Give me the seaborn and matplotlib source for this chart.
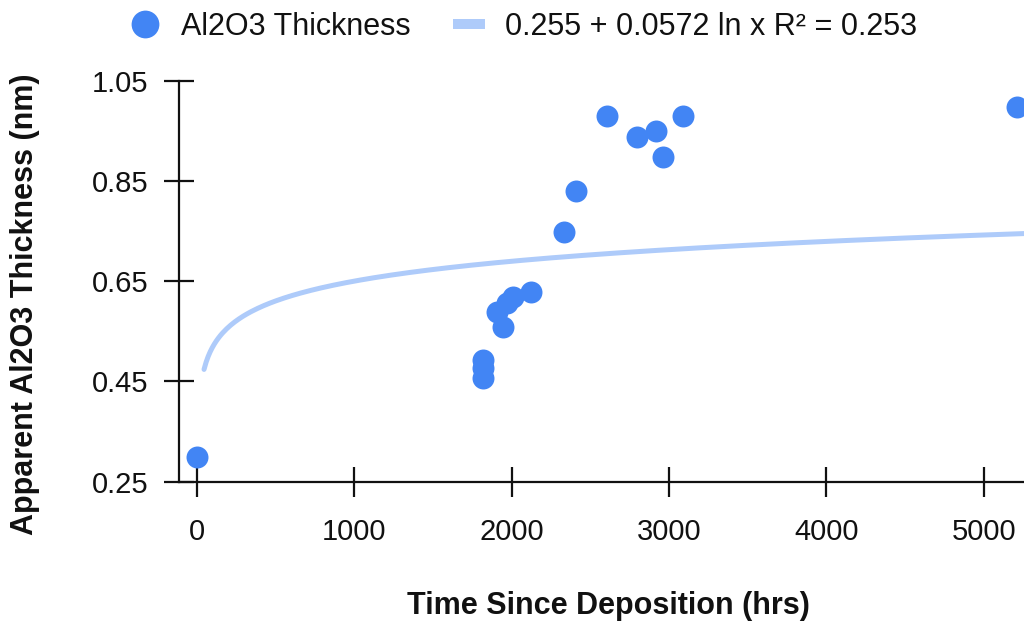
import numpy as np
import pandas as pd
import matplotlib
matplotlib.use("Agg")
import matplotlib.pyplot as plt
from matplotlib.lines import Line2D
import seaborn as sns

# Measured oxide thickness versus time since deposition
hours = [0, 1820, 1820, 1820, 1905, 1943, 1969, 2011, 2121,
         2333, 2407, 2604, 2794, 2916, 2960, 3091, 5211]
thickness_nm = [0.299, 0.456, 0.477, 0.493, 0.589, 0.558, 0.607, 0.619, 0.629,
                0.749, 0.829, 0.980, 0.938, 0.950, 0.898, 0.980, 0.998]

# Logarithmic trendline: y = a + b ln x
fit_a, fit_b, fit_r2 = 0.255, 0.0572, 0.253
fit_label = f"{fit_a} + {fit_b} ln x R\u00b2 = {fit_r2}"
point_label = "Al2O3 Thickness"

x_ticks = [0, 1000, 2000, 3000, 4000, 5000]
y_ticks = [0.25, 0.45, 0.65, 0.85, 1.05]

POINT_COLOR = "#4285F4"
LINE_COLOR = "#AECBFA"
TEXT_COLOR = "#111111"

sns.set_theme(style="white")
plt.rcParams["font.family"] = ["Liberation Sans", "DejaVu Sans"]

fig = plt.figure(figsize=(10.24, 6.22), dpi=100)
ax = fig.add_axes([179 / 1024, (622 - 481.7) / 622, (1024 - 179) / 1024, (481.7 - 80.7) / 622])

df = pd.DataFrame({"hours": hours, "thickness": thickness_nm})
fit_x = np.linspace(46, 5255, 400)
fit_df = pd.DataFrame({"hours": fit_x, "thickness": fit_a + fit_b * np.log(fit_x)})

sns.lineplot(data=fit_df, x="hours", y="thickness", ax=ax, color=LINE_COLOR,
             linewidth=3.6, legend=False, zorder=2)
sns.scatterplot(data=df, x="hours", y="thickness", ax=ax, color=POINT_COLOR,
                s=250, linewidth=0, legend=False, zorder=3)

ax.set_xlim(-113, 5255)
ax.set_ylim(0.25, 1.05)
ax.set_xticks(x_ticks)
ax.set_xticklabels([str(t) for t in x_ticks])
ax.set_yticks(y_ticks)
ax.set_yticklabels([f"{t:.2f}" for t in y_ticks])

for side in ("top", "right"):
    ax.spines[side].set_visible(False)
for side in ("left", "bottom"):
    ax.spines[side].set_color("#111111")
    ax.spines[side].set_linewidth(1.6)

ax.tick_params(axis="both", direction="inout", length=21.6, width=1.6,
               color="#111111", labelsize=21, labelcolor=TEXT_COLOR,
               bottom=True, left=True)
ax.tick_params(axis="x", pad=15)
ax.tick_params(axis="y", pad=11)

ax.set_xlabel("Time Since Deposition (hrs)", fontsize=22, fontweight="bold",
              color=TEXT_COLOR, va="center")
ax.set_ylabel("Apparent Al2O3 Thickness (nm)", fontsize=22, fontweight="bold",
              color=TEXT_COLOR, va="center")
ax.xaxis.set_label_coords(0.508, (481.7 - 606) / 401)
ax.yaxis.set_label_coords((25 - 179) / 845, (481.7 - 304) / 401)

handles = [
    Line2D([], [], marker="o", linestyle="none", markersize=20,
           markerfacecolor=POINT_COLOR, markeredgewidth=0),
    Line2D([], [], color=LINE_COLOR, linewidth=7.2, solid_capstyle="butt"),
]
fig.legend(handles, [point_label, fit_label], loc="center",
           bbox_to_anchor=(523 / 1024, 1 - 27 / 622), ncol=2, frameon=False,
           fontsize=22, handlelength=1.05, handletextpad=0.65,
           columnspacing=1.4, borderpad=0, borderaxespad=0,
           labelcolor=TEXT_COLOR)

fig.savefig("out.png", dpi=100)
